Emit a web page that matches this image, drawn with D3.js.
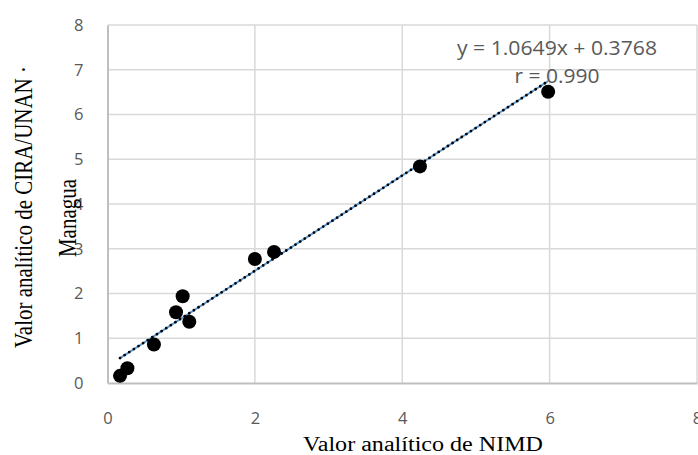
<!DOCTYPE html>
<html>
<head>
<meta charset="utf-8">
<script src="https://cdn.jsdelivr.net/npm/d3@7"></script>
<style>
  html, body { margin: 0; padding: 0; background: #fff; }
  svg { display: block; }
</style>
</head>
<body>
<svg id="chart" width="698" height="455"></svg>
<script>
// Measured values: NIMD (x) vs CIRA/UNAN-Managua (y)
const nimd = [0.17, 0.27, 0.63, 0.93, 1.02, 1.11, 2.00, 2.26, 4.24, 5.98];
const cira = [0.16, 0.33, 0.86, 1.58, 1.94, 1.37, 2.77, 2.93, 4.84, 6.51];
const xTicks = [0, 2, 4, 6, 8];
const yTicks = [0, 1, 2, 3, 4, 5, 6, 7, 8];
const slope = 1.0649;
const intercept = 0.3768;
const rValue = "0.990";
const equationText = "y = 1.0649x + 0.3768";
const xTitle = "Valor analítico de NIMD";
const yTitleLines = ["Valor analítico de CIRA/UNAN ·", "Managua"];

const svg = d3.select("#chart");
const x = d3.scaleLinear().domain([0, 8]).range([107.5, 697]);
const y = d3.scaleLinear().domain([0, 8]).range([383, 25]);

const tickFont = "'Open Sans', 'Liberation Sans', sans-serif";
const serif = "'Liberation Serif', 'Times New Roman', serif";

// gridlines
const grid = svg.append("g");
grid.selectAll("line.h").data(yTicks.filter(d => d > 0)).join("line")
  .attr("x1", x(0)).attr("x2", x(8))
  .attr("y1", d => y(d)).attr("y2", d => y(d))
  .attr("stroke", "#d9d9d9").attr("stroke-width", 1.5);
grid.selectAll("line.v").data(xTicks.filter(d => d > 0)).join("line")
  .attr("y1", y(0)).attr("y2", y(8))
  .attr("x1", d => x(d)).attr("x2", d => x(d))
  .attr("stroke", "#d9d9d9").attr("stroke-width", 1.5);

// axes
const xAxis = svg.append("g").attr("transform", `translate(0,${y(0)})`)
  .call(d3.axisBottom(x).tickValues(xTicks).tickSize(0).tickPadding(29).tickFormat(d3.format("d")));
const yAxis = svg.append("g").attr("transform", `translate(${x(0)},0)`)
  .call(d3.axisLeft(y).tickValues(yTicks).tickSize(0).tickPadding(24).tickFormat(d3.format("d")));
[xAxis, yAxis].forEach(a => {
  a.select(".domain").attr("stroke", "#bfbfbf").attr("stroke-width", 2);
  a.selectAll("text").attr("font-family", tickFont).attr("font-size", 16.5).attr("fill", "#595959");
});

// trendline from the fitted equation
const xr = d3.extent(nimd);
const fit = [xr[0], xr[1]].map(v => [x(v), y(slope * v + intercept)]);
const line = d3.line();
svg.append("path").attr("d", line(fit))
  .attr("stroke", "#5b9bd5").attr("stroke-width", 2).attr("fill", "none");
svg.append("path").attr("d", line(fit))
  .attr("stroke", "#000").attr("stroke-width", 2.8).attr("fill", "none")
  .attr("stroke-linecap", "round").attr("stroke-dasharray", "0 5.5");

// points
svg.append("g").selectAll("circle").data(nimd.map((v, i) => [v, cira[i]])).join("circle")
  .attr("cx", d => x(d[0])).attr("cy", d => y(d[1])).attr("r", 7)
  .attr("fill", "#000");

// equation labels
const eq = svg.append("g").attr("font-family", tickFont).attr("font-size", 19.5)
  .attr("fill", "#595959").attr("text-anchor", "middle");
eq.append("text").attr("x", 557).attr("y", 55)
  .attr("textLength", 200).attr("lengthAdjust", "spacingAndGlyphs").text(equationText);
eq.append("text").attr("x", 557).attr("y", 83)
  .attr("textLength", 85).attr("lengthAdjust", "spacingAndGlyphs").text("r = " + rValue);

// axis titles
svg.append("text").attr("x", 423).attr("y", 451)
  .attr("font-family", serif).attr("font-size", 20).attr("text-anchor", "middle")
  .attr("textLength", 240).attr("lengthAdjust", "spacingAndGlyphs")
  .text(xTitle);
const yt = svg.append("g").attr("font-family", serif).attr("font-size", 21).attr("text-anchor", "middle");
yt.append("text").attr("transform", "translate(32,207) rotate(-90) scale(1,1.15)").text(yTitleLines[0]);
yt.append("text").attr("transform", "translate(76,218) rotate(-90) scale(1,1.15)").text(yTitleLines[1]);
</script>
</body>
</html>
